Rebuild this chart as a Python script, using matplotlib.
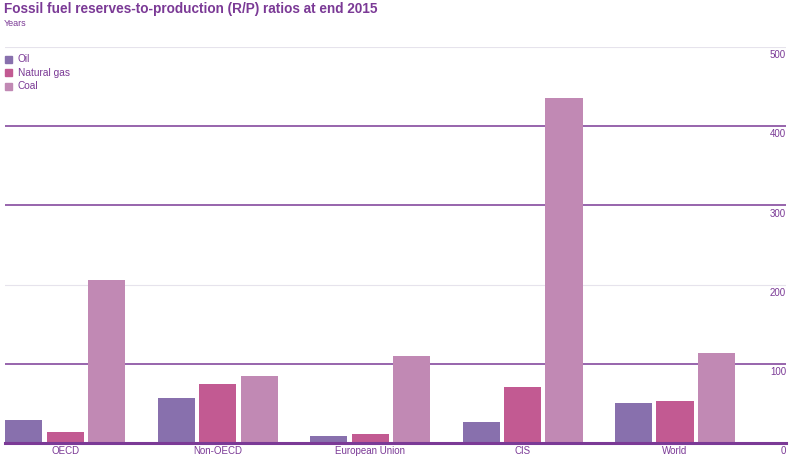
import matplotlib.pyplot as plt
import numpy as np

# R/P ratios (years)
regions = ["OECD", "Non-OECD", "European Union", "CIS", "World"]
oil = [29, 57, 9, 27, 51]
gas = [14, 75, 11, 71, 53]
coal = [206, 85, 110, 436, 114]
series_names = ["Oil", "Natural gas", "Coal"]
colors = ["#8870ad", "#c25a92", "#c189b4"]
yticks = [0, 100, 200, 300, 400, 500]

purple = "#7b3a96"
text_col = "#7b3a96"
plt.rcParams['font.family'] = ['Liberation Sans', 'DejaVu Sans']

fig = plt.figure(figsize=(8, 4.57), dpi=100)
ax = fig.add_axes([5 / 800, 14 / 457, 781 / 800, 396 / 457])

x = np.arange(len(regions))
step = 0.272
width = 0.243
for k, (vals, c) in enumerate(zip([oil, gas, coal], colors)):
    ax.bar(x + (k - 1) * step, vals, width=width, color=c, zorder=2)

ax.set_xlim(-0.394, 4.728)
ax.set_ylim(0, 500)

# gridlines: some purple, some light grey as in the original
for v in yticks:
    if v == 0:
        ax.axhline(v, color=purple, lw=2.2, zorder=3, clip_on=False)
    elif v in (200, 500):
        ax.axhline(v, color="#e6e3ec", lw=0.8, zorder=1)
    else:
        ax.axhline(v, color=purple, lw=1.1, zorder=1)
    ax.text(1.0, v - 4, str(v), transform=ax.get_yaxis_transform(), ha="right", va="top",
            fontsize=7, color=text_col)

for i, r in enumerate(regions):
    ax.text(i, -4, r, ha="center", va="top", fontsize=7, color=text_col)

for s in ax.spines.values():
    s.set_visible(False)
ax.set_xticks([])
ax.set_yticks([])

fig.text(4 / 800, 1 - 9 / 457, "Fossil fuel reserves-to-production (R/P) ratios at end 2015",
         fontsize=9.8, fontweight="bold", color=text_col, va="center", ha="left")
fig.text(4 / 800, 1 - 23 / 457, "Years", fontsize=6.5, color=text_col, va="center", ha="left")

# legend drawn as squares with labels
for k, (name, c) in enumerate(zip(series_names, colors)):
    yy = 1 - (59 + k * 13.5) / 457
    fig.patches.append(plt.Rectangle((5 / 800, yy - 3.5 / 457), 7 / 800, 7 / 457,
                                     transform=fig.transFigure, color=c))
    fig.text(18 / 800, yy, name, fontsize=7.3, color=text_col, va="center", ha="left")

fig.savefig("out.png", dpi=100)
